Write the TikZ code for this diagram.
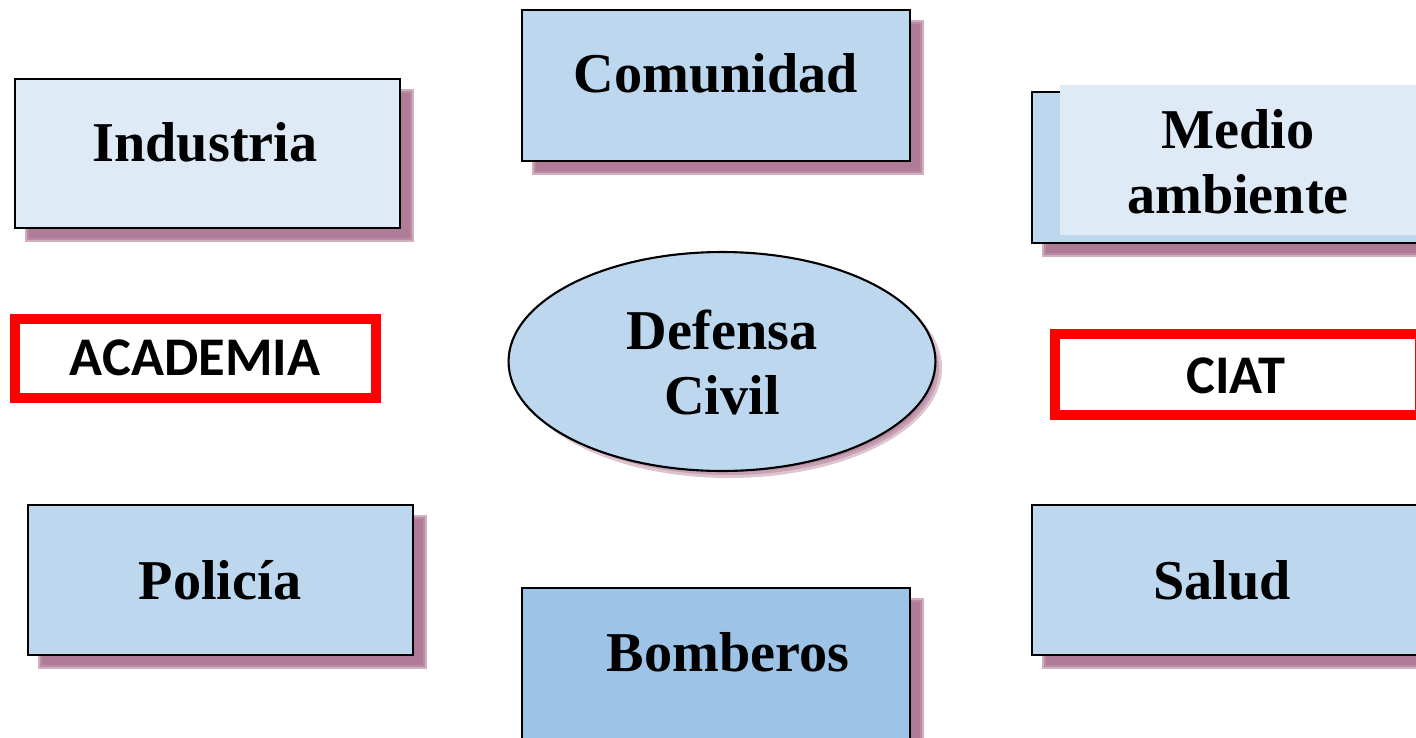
\documentclass[tikz,border=0pt]{standalone}
\usepackage{fontspec}
\setmainfont{Liberation Serif}
\newfontfamily\calib{Carlito}
\usetikzlibrary{shapes.geometric}
\definecolor{lightfill}{HTML}{DEEAF6}
\definecolor{midfill}{HTML}{BDD7EE}
\definecolor{darkfill}{HTML}{9DC3E6}
\definecolor{shcol}{HTML}{A86E8C}
\definecolor{redline}{HTML}{FF0000}
\newcommand\shrect[4]{%
  \foreach \d in {0,2,4}{\fill[shcol,opacity=0.55] (#1+12+\d-2,#2+12+\d-2) rectangle (#3+12-\d+2,#4+12-\d+2);}}
\tikzset{
  box/.style={draw=black,line width=1.2pt,rectangle,inner sep=0pt},
  redbox/.style={draw=redline,line width=5.5pt,fill=white,rectangle,inner sep=0pt},
  lbl/.style={font=\fontsize{32}{37}\selectfont\bfseries,align=center,inner sep=0pt},
  slbl/.style={font=\calib\fontsize{31}{36}\selectfont\bfseries,inner sep=0pt},
}
\begin{document}
\begin{tikzpicture}[x=0.02cm,y=-0.02cm]
\useasboundingbox (0,0) rectangle (1416,737);
\clip (0,0) rectangle (1416,737);
% shadows
\shrect{15}{79}{400}{228}
\shrect{522}{10}{910}{161}
\shrect{1032}{92}{1430}{243}
\shrect{28}{505}{413}{655}
\shrect{1032}{505}{1430}{655}
\shrect{522}{588}{910}{760}
\foreach \d in {0,3,6}{\fill[shcol,opacity=0.4] (729,368) ellipse ({213-\d} and {110-\d});}
% boxes
\node[box,fill=lightfill,minimum width=7.7cm,minimum height=2.98cm] (indbox) at (207.5,153.5) {};
\node[lbl] (ind) at (205,142) {Industria};
\node[box,fill=midfill,minimum width=7.76cm,minimum height=3.02cm] (combox) at (716,85.5) {};
\node[lbl] (com) at (716,73) {Comunidad};
\node[box,fill=midfill,minimum width=7.96cm,minimum height=3.02cm] (medback) at (1231,167.5) {};
\node[fill=lightfill,minimum width=7.4cm,minimum height=3cm,inner sep=0pt] (medfront) at (1245,160) {};
\node[lbl] (med) at (1238,162) {Medio\\ambiente};
\node[redbox,minimum width=7.22cm,minimum height=1.58cm] (acabox) at (195.5,358.5) {};
\node[slbl] (aca) at (195,358) {ACADEMIA};
\node[ellipse,draw=black,line width=1.2pt,fill=midfill,minimum width=8.54cm,minimum height=4.38cm,inner sep=0pt] (dc) at (722,361.5) {};
\node[lbl] (dct) at (722,362) {Defensa\\Civil};
\node[redbox,minimum width=7.3cm,minimum height=1.62cm] (ciatbox) at (1237.5,374.5) {};
\node[slbl] (ciat) at (1236,376) {CIAT};
\node[box,fill=midfill,minimum width=7.7cm,minimum height=3cm] (polbox) at (220.5,580) {};
\node[lbl] (pol) at (220,580) {Policía};
\node[box,fill=midfill,minimum width=7.96cm,minimum height=3cm] (salbox) at (1231,580) {};
\node[lbl] (sal) at (1222,580) {Salud};
\node[box,fill=darkfill,minimum width=7.76cm,minimum height=3.4cm] (bombox) at (716,673) {};
\node[lbl] (bom) at (728,652) {Bomberos};
\end{tikzpicture}
\end{document}
